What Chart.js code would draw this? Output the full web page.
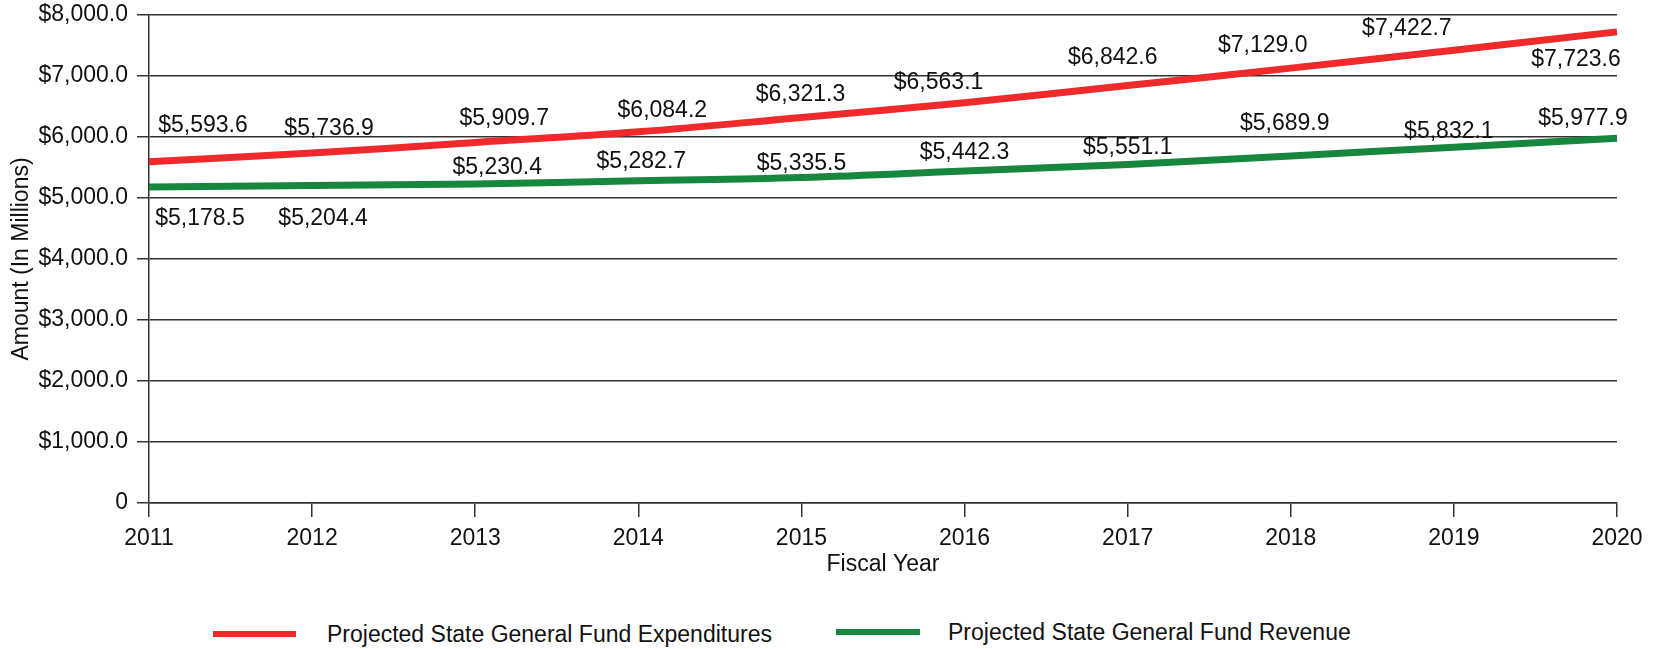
<!DOCTYPE html>
<html>
<head>
<meta charset="utf-8">
<script src="https://cdn.jsdelivr.net/npm/chart.js@4.4.1/dist/chart.umd.min.js"></script>
<style>
  html, body { margin: 0; padding: 0; background: #fff; }
  #wrap { position: relative; width: 1654px; height: 649px; font-family: "Liberation Sans", Arial, sans-serif; color: #111; }
  #box-grafico { position: absolute; left: 0; top: 0; width: 1654px; height: 600px; }
  .leg-swatch { position: absolute; height: 6px; }
  .leg-texto { position: absolute; font-size: 23px; line-height: 27px; white-space: nowrap; }
</style>
</head>
<body>
<div id="wrap">
  <div id="box-grafico"><canvas id="canvas-grafico"></canvas></div>
  <div class="leg-swatch" style="left:213px; top:631px; width:83px; background:#f02a2a;"></div>
  <div class="leg-texto" style="left:327px; top:621px;">Projected State General Fund Expenditures</div>
  <div class="leg-swatch" style="left:836px; top:629px; width:84px; background:#17873e;"></div>
  <div class="leg-texto" style="left:948px; top:619px;">Projected State General Fund Revenue</div>
</div>
<script>
var anos = ["2011", "2012", "2013", "2014", "2015", "2016", "2017", "2018", "2019", "2020"];
var despesas = [5593.6, 5736.9, 5909.7, 6084.2, 6321.3, 6563.1, 6842.6, 7129.0, 7422.7, 7723.6];
var receitas = [5178.5, 5204.4, 5230.4, 5282.7, 5335.5, 5442.3, 5551.1, 5689.9, 5832.1, 5977.9];
var rotulos_y = ["0", "$1,000.0", "$2,000.0", "$3,000.0", "$4,000.0", "$5,000.0", "$6,000.0", "$7,000.0", "$8,000.0"];

// deslocamento dos rotulos de valor em relacao ao ponto (px)
var desloc_despesas = [[54, -36], [17, -24], [29, -24], [24, -21], [-1, -23], [-26, -20], [-15, -28], [-28, -22], [-47, -22], [-41, 28]];
var desloc_receitas = [[51, 32], [11, 33], [22, -16], [3, -19], [0, -14], [0, -18], [0, -17], [-6, -32], [-5, -16], [-34, -20]];

function formatar_valor(v) {
    return "$" + v.toLocaleString("en-US", { minimumFractionDigits: 1, maximumFractionDigits: 1 });
}

var rotulos_plugin = {
    id: "rotulos_valores",
    afterDatasetsDraw: function(chart) {
        var ctx = chart.ctx;
        ctx.save();
        ctx.font = "23px 'Liberation Sans', Arial, sans-serif";
        ctx.fillStyle = "#111";
        ctx.textAlign = "center";
        ctx.textBaseline = "middle";
        chart.data.datasets.forEach(function(ds, i) {
            var meta = chart.getDatasetMeta(i);
            meta.data.forEach(function(pt, j) {
                var d = ds.desloc[j];
                ctx.fillText(formatar_valor(ds.data[j]), pt.x + d[0], pt.y + d[1]);
            });
        });
        ctx.restore();
    }
};

Chart.defaults.font.family = "'Liberation Sans', Arial, sans-serif";
Chart.defaults.font.size = 23;
Chart.defaults.color = "#111";

var canvas = document.getElementById("canvas-grafico");
var chart = new Chart(canvas, {
    type: "line",
    data: {
        labels: anos,
        datasets: [
            {
                label: "Projected State General Fund Expenditures",
                data: despesas,
                desloc: desloc_despesas,
                borderColor: "#f02a2a",
                borderWidth: 7,
                pointRadius: 0,
                tension: 0.4,
                fill: false
            },
            {
                label: "Projected State General Fund Revenue",
                data: receitas,
                desloc: desloc_receitas,
                borderColor: "#17873e",
                borderWidth: 7,
                pointRadius: 0,
                tension: 0.4,
                fill: false
            }
        ]
    },
    options: {
        responsive: true,
        maintainAspectRatio: false,
        animation: false,
        layout: { padding: { left: 0, right: 37, top: 15, bottom: 0 } },
        plugins: {
            legend: { display: false },
            tooltip: { enabled: false }
        },
        scales: {
            x: {
                offset: false,
                grid: { drawOnChartArea: false, drawTicks: true, tickLength: 14, color: "#333", lineWidth: 1.5 },
                border: { display: true, color: "#333", width: 1.5 },
                ticks: { padding: 8, maxRotation: 0, autoSkip: false, color: "#111" },
                title: { display: true, text: "Fiscal Year", color: "#111", padding: { top: 0, bottom: 22 } },
                afterFit: function(s) { s.height = 97; }
            },
            y: {
                min: 0,
                max: 8000,
                grid: { color: "#333", lineWidth: 1.5, tickLength: 12 },
                border: { display: true, color: "#333", width: 1.5 },
                ticks: {
                    stepSize: 1000,
                    padding: 9,
                    color: "#111",
                    callback: function(v, i) { return rotulos_y[i]; }
                },
                title: { display: true, text: "Amount (In Millions)", color: "#111", padding: { top: 8, bottom: 0 } },
                afterFit: function(s) {
                    s.width = 149;
                    s.paddingTop = 0;
                    s.paddingBottom = 0;
                }
            }
        }
    },
    plugins: [rotulos_plugin]
});
</script>
</body>
</html>
